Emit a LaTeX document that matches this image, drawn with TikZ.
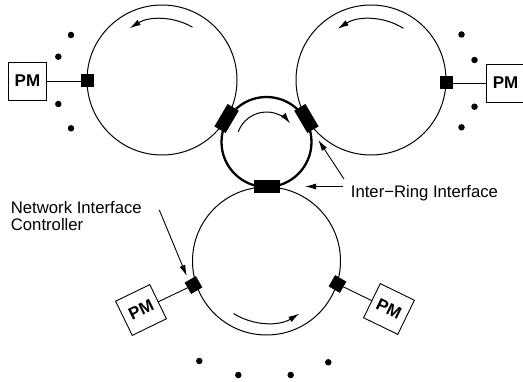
\documentclass[tikz,border=0pt]{standalone}
\usepackage{fontspec}
\setmainfont{Liberation Sans}
\usetikzlibrary{arrows.meta}
\begin{document}
\begin{tikzpicture}[x=1pt,y=1pt,
  ring/.style={circle, draw, line width=1pt, inner sep=0pt, outer sep=0pt},
  hub/.style={circle, draw, line width=2.3pt, minimum size=90pt, inner sep=0pt, outer sep=0pt},
  nic/.style={fill=black, minimum size=13pt, inner sep=0pt, outer sep=0pt},
  iri/.style={fill=black, minimum width=13pt, minimum height=26pt, inner sep=0pt, outer sep=0pt},
  pm/.style={draw, line width=0.9pt, minimum size=38pt, inner sep=0pt, outer sep=0pt, font=\fontsize{17}{17}\selectfont\bfseries},
  link/.style={line width=0.9pt},
  flow/.style={line width=1pt, -{Latex[length=11pt,width=6pt]}},
  note/.style={line width=0.9pt, -{Latex[length=11pt,width=6pt]}},
  dot/.style={circle, fill=black, minimum size=6.5pt, inner sep=0pt},
  lbl/.style={font=\fontsize{16.7}{16.6}\selectfont, inner sep=0pt}]
\useasboundingbox (0,0) rectangle (523,381);

% rings
\node[ring, minimum size=150pt] (rtl) at (162,301) {};
\node[ring, minimum size=150pt] (rtr) at (371,301) {};
\node[hub] (hub) at (266.5,239) {};
\node[ring, minimum size=148pt] (rb) at (266.5,120) {};

% inter-ring interfaces
\node[iri, rotate=-30.5] (i1) at (226.6,262.5) {};
\node[iri, rotate=30.5] (i2) at (306.4,262.5) {};
\node[iri, rotate=90] (i3) at (266.5,194) {};

% network interface controllers
\node[nic] (n1) at (87,300) {};
\node[nic] (n2) at (446.5,298) {};
\node[nic, rotate=30] (n3) at (193.5,96) {};
\node[nic, rotate=-30] (n4) at (337.5,97) {};

% processing modules
\node[pm] (p1) at (27.5,300) {PM};
\node[pm] (p2) at (505.5,298) {PM};
\node[pm, rotate=26] (p3) at (141,71) {PM};
\node[pm, rotate=-26] (p4) at (389,72) {PM};

\draw[link] (n1) -- (p1);
\draw[link] (n2) -- (p2);
\draw[link] (n3) -- (p3);
\draw[link] (n4) -- (p4);

% direction arrows
\draw[flow] ([shift={(60:61pt)}]rtl.center) arc[start angle=60, end angle=122, radius=61pt];
\draw[flow] ([shift={(58:61pt)}]rtr.center) arc[start angle=58, end angle=123, radius=61pt];
\draw[flow] ([shift={(160:30pt)}]hub.center) arc[start angle=160, end angle=38, radius=30pt];
\draw[flow] ([shift={(238:62pt)}]rb.center) arc[start angle=238, end angle=302, radius=62pt];

% dots
\node[dot] (d1) at (71,346) {};
\node[dot] (d2) at (58.3,324.3) {};
\node[dot] (d3) at (58.3,277) {};
\node[dot] (d4) at (71,252.7) {};
\node[dot] (d5) at (461.5,346.5) {};
\node[dot] (d6) at (474.5,321) {};
\node[dot] (d7) at (474.5,274.3) {};
\node[dot] (d8) at (461.5,253.7) {};
\node[dot] (d9) at (199.3,20) {};
\node[dot] (d10) at (238.3,6) {};
\node[dot] (d11) at (290.7,6) {};
\node[dot] (d12) at (328.3,18.7) {};

% labels
\node[lbl, anchor=base west] (lir) at (350.7,183.3) {Inter\hbox{−}Ring Interface};
\node[lbl, anchor=north west, align=left] (lnic) at (10.7,179.5) {Network Interface\\Controller};

\coordinate (a1) at (343,194.5);
\coordinate (a2) at (344,202);
\coordinate (a3) at (159.3,171);
\coordinate (t1) at (305,194.5);
\coordinate (t2) at (318.3,241);
\coordinate (t3) at (186.7,105);
\draw[note] (a1) -- (t1);
\draw[note] (a2) -- (t2);
\draw[note] (a3) -- (t3);
\end{tikzpicture}
\end{document}
